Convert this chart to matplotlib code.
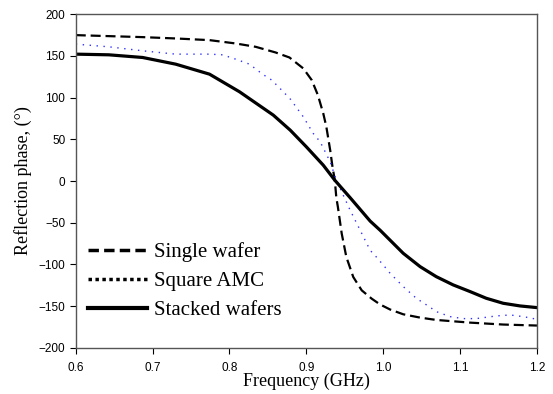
import matplotlib
matplotlib.use("Agg")
import matplotlib.pyplot as plt
import numpy as np

# Single wafer (dashed)
f_single = [0.600, 0.643, 0.687, 0.730, 0.774, 0.808, 0.834, 0.860, 0.878, 0.896, 0.907,
            0.915, 0.922, 0.926, 0.931, 0.934, 0.937, 0.939, 0.941, 0.946, 0.952, 0.961,
            0.972, 0.985, 0.996, 1.009, 1.026, 1.048, 1.069, 1.113, 1.156, 1.200]
p_single = [174.9, 173.7, 172.5, 170.9, 168.9, 164.9, 160.9, 154.1, 148.1, 135.0, 121.0,
            103.0, 81.0, 65.0, 37.0, 17.0, 1.0, -20.0, -31.0, -63.0, -91.0, -115.0,
            -131.0, -141.0, -148.0, -154.0, -159.7, -163.7, -166.5, -169.7, -172.0, -173.2]

# Square AMC (dotted)
f_square = [0.600, 0.643, 0.687, 0.730, 0.774, 0.791, 0.808, 0.826, 0.843, 0.855, 0.8785,
            0.896, 0.909, 0.918, 0.931, 0.939, 0.957, 0.970, 0.983, 0.991, 1.000, 1.009,
            1.026, 1.043, 1.061, 1.069, 1.087, 1.104, 1.121, 1.147, 1.165, 1.182, 1.200]
p_square = [164.1, 160.9, 156.1, 152.1, 152.1, 151.3, 146.1, 140.1, 128.1, 121.0, 99.0,
            77.0, 57.0, 47.0, 23.0, 1.0, -35.0, -59.0, -83.0, -91.0, -100.6, -110.6,
            -126.5, -140.5, -151.3, -156.5, -162.5, -164.9, -164.9, -161.7, -160.5, -162.5, -165.7]

# Stacked wafers (solid)
f_stacked = [0.600, 0.643, 0.687, 0.730, 0.774, 0.813, 0.835, 0.857, 0.879, 0.900, 0.922,
             0.937, 0.957, 0.983, 0.996, 1.026, 1.048, 1.069, 1.091, 1.113, 1.134, 1.156,
             1.178, 1.200]
p_stacked = [152.1, 151.3, 148.1, 140.1, 128.1, 107.0, 93.0, 79.0, 61.0, 41.0, 19.0,
             1.0, -20.0, -48.0, -59.0, -86.6, -102.6, -114.6, -124.5, -132.5, -140.5, -146.5,
             -149.7, -151.7]

labels = ["Single wafer", "Square AMC", "Stacked wafers"]

fig = plt.figure(figsize=(5.53, 3.94), dpi=100)
ax = fig.add_axes([0.137, 0.117, 0.834, 0.847])

ax.plot(f_single, p_single, color="black", lw=1.6, ls=(0, (4.5, 2.2)), label=labels[0])
ax.plot(f_square, p_square, color="#3030ff", lw=1.0, ls=(0, (1, 4)), label=labels[1])
ax.plot(f_stacked, p_stacked, color="black", lw=2.3, label=labels[2])

ax.set_xlim(0.6, 1.2)
ax.set_ylim(-200, 200)
ax.set_xticks(np.arange(0.6, 1.21, 0.1))
ax.set_xticklabels(["0.6", "0.7", "0.8", "0.9", "1.0", "1.1", "1.2"])
ax.set_yticks(np.arange(-200, 201, 50))
ax.tick_params(direction="out", length=4, width=0.8, labelsize=8.5)
ax.tick_params(axis="x", pad=6)
for lab in ax.get_xticklabels() + ax.get_yticklabels():
    lab.set_family("Liberation Sans")
for s in ax.spines.values():
    s.set_color("#555555")
    s.set_linewidth(1.0)

ax.set_xlabel("Frequency (GHz)", family="Liberation Serif", fontsize=13, labelpad=-1)
ax.set_ylabel("Reflection phase, (°)", family="Liberation Serif", fontsize=13, labelpad=5)

h, l = ax.get_legend_handles_labels()
leg = ax.legend(h, l, loc="center left", bbox_to_anchor=(0.0, 0.2), frameon=False,
                prop={"family": "Liberation Serif", "size": 15}, handlelength=2.8,
                handletextpad=0.35, labelspacing=0.45, borderpad=0.2, borderaxespad=0.4)
lines = leg.get_lines()
lines[0].set_linewidth(2.5)
lines[0].set_linestyle((0, (3, 1.5)))
lines[1].set_color("black")
lines[1].set_linewidth(2.5)
lines[1].set_linestyle((0, (1, 1)))
lines[2].set_linewidth(3.0)

fig.savefig("out.png", dpi=100)
